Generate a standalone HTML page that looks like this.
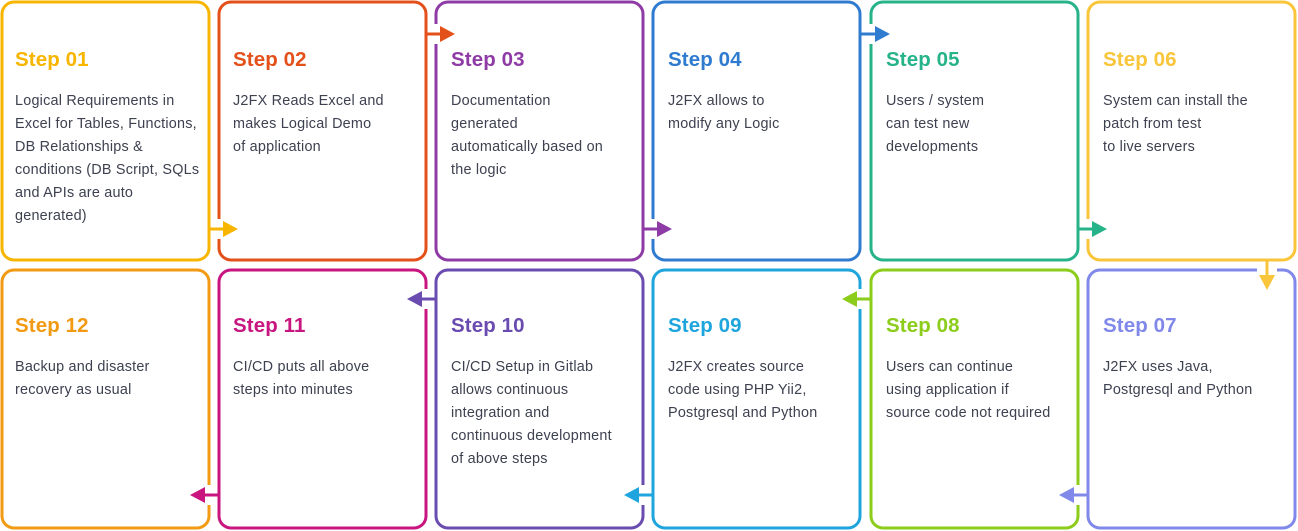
<!DOCTYPE html>
<html><head><meta charset="utf-8"><style>
html,body{margin:0;padding:0;background:#fff;}
svg{display:block;}
.t{font-family:"Liberation Sans",sans-serif;font-weight:bold;font-size:20.5px;letter-spacing:0.1px;}
.b{font-family:"Liberation Sans",sans-serif;font-size:14.4px;fill:#3d4150;letter-spacing:0.22px;}
</style></head><body>
<svg width="1298" height="531" viewBox="0 0 1298 531" xmlns="http://www.w3.org/2000/svg">
<g fill="none" stroke-width="3">
<rect x="2" y="2" width="207" height="258" rx="12" stroke="#f7b500"/>
<rect x="219" y="2" width="207" height="258" rx="12" stroke="#e4501a"/>
<rect x="436" y="2" width="207" height="258" rx="12" stroke="#8e3ba5"/>
<rect x="653" y="2" width="207" height="258" rx="12" stroke="#2f7bd0"/>
<rect x="871" y="2" width="207" height="258" rx="12" stroke="#27b38a"/>
<rect x="1088" y="2" width="207" height="258" rx="12" stroke="#f9c53a"/>
<rect x="2" y="270" width="207" height="258" rx="12" stroke="#f29a13"/>
<rect x="219" y="270" width="207" height="258" rx="12" stroke="#c8157f"/>
<rect x="436" y="270" width="207" height="258" rx="12" stroke="#6a4bb0"/>
<rect x="653" y="270" width="207" height="258" rx="12" stroke="#1fa5dd"/>
<rect x="871" y="270" width="207" height="258" rx="12" stroke="#8ccc1a"/>
<rect x="1088" y="270" width="207" height="258" rx="12" stroke="#8088ea"/>
</g>
<g stroke="#fff" stroke-width="6">
<line x1="219" y1="219" x2="219" y2="239"/>
<line x1="436" y1="24" x2="436" y2="44"/>
<line x1="653" y1="219" x2="653" y2="239"/>
<line x1="871" y1="24" x2="871" y2="44"/>
<line x1="1088" y1="219" x2="1088" y2="239"/>
<line x1="1257" y1="270" x2="1277" y2="270"/>
<line x1="1078" y1="485" x2="1078" y2="505"/>
<line x1="860" y1="289" x2="860" y2="309"/>
<line x1="643" y1="485" x2="643" y2="505"/>
<line x1="426" y1="289" x2="426" y2="309"/>
<line x1="209" y1="485" x2="209" y2="505"/>
</g>
<g stroke-width="3" fill="none">
<path d="M209 229H224" stroke="#f7b500"/>
<path d="M426 34H441" stroke="#e4501a"/>
<path d="M643 229H658" stroke="#8e3ba5"/>
<path d="M860 34H876" stroke="#2f7bd0"/>
<path d="M1078 229H1093" stroke="#27b38a"/>
<path d="M1267 260V276" stroke="#f9c53a"/>
<path d="M1088 495H1073" stroke="#8088ea"/>
<path d="M871 299H856" stroke="#8ccc1a"/>
<path d="M653 495H638" stroke="#1fa5dd"/>
<path d="M436 299H421" stroke="#6a4bb0"/>
<path d="M219 495H204" stroke="#c8157f"/>
</g>
<g>
<polygon points="223,221 238,229 223,237" fill="#f7b500"/>
<polygon points="440,26 455,34 440,42" fill="#e4501a"/>
<polygon points="657,221 672,229 657,237" fill="#8e3ba5"/>
<polygon points="875,26 890,34 875,42" fill="#2f7bd0"/>
<polygon points="1092,221 1107,229 1092,237" fill="#27b38a"/>
<polygon points="1259,275 1275,275 1267,290" fill="#f9c53a"/>
<polygon points="1074,487 1059,495 1074,503" fill="#8088ea"/>
<polygon points="857,291 842,299 857,307" fill="#8ccc1a"/>
<polygon points="639,487 624,495 639,503" fill="#1fa5dd"/>
<polygon points="422,291 407,299 422,307" fill="#6a4bb0"/>
<polygon points="205,487 190,495 205,503" fill="#c8157f"/>
</g>
<g class="t">
<text x="15" y="66" fill="#f7b500">Step 01</text>
<text x="233" y="66" fill="#e4501a">Step 02</text>
<text x="451" y="66" fill="#8e3ba5">Step 03</text>
<text x="668" y="66" fill="#2f7bd0">Step 04</text>
<text x="886" y="66" fill="#27b38a">Step 05</text>
<text x="1103" y="66" fill="#f9c53a">Step 06</text>
<text x="15" y="332" fill="#f29a13">Step 12</text>
<text x="233" y="332" fill="#c8157f">Step 11</text>
<text x="451" y="332" fill="#6a4bb0">Step 10</text>
<text x="668" y="332" fill="#1fa5dd">Step 09</text>
<text x="886" y="332" fill="#8ccc1a">Step 08</text>
<text x="1103" y="332" fill="#8088ea">Step 07</text>
</g>
<g class="b">
<text x="15" y="105">Logical Requirements in<tspan x="15" dy="23">Excel for Tables, Functions,</tspan><tspan x="15" dy="23">DB Relationships &amp;</tspan><tspan x="15" dy="23">conditions (DB Script, SQLs</tspan><tspan x="15" dy="23">and APIs are auto</tspan><tspan x="15" dy="23">generated)</tspan></text>
<text x="233" y="105">J2FX Reads Excel and<tspan x="233" dy="23">makes Logical Demo</tspan><tspan x="233" dy="23">of application</tspan></text>
<text x="451" y="105">Documentation<tspan x="451" dy="23">generated</tspan><tspan x="451" dy="23">automatically based on</tspan><tspan x="451" dy="23">the logic</tspan></text>
<text x="668" y="105">J2FX allows to<tspan x="668" dy="23">modify any Logic</tspan></text>
<text x="886" y="105">Users / system<tspan x="886" dy="23">can test new</tspan><tspan x="886" dy="23">developments</tspan></text>
<text x="1103" y="105">System can install the<tspan x="1103" dy="23">patch from test</tspan><tspan x="1103" dy="23">to live servers</tspan></text>
<text x="15" y="371">Backup and disaster<tspan x="15" dy="23">recovery as usual</tspan></text>
<text x="233" y="371">CI/CD puts all above<tspan x="233" dy="23">steps into minutes</tspan></text>
<text x="451" y="371">CI/CD Setup in Gitlab<tspan x="451" dy="23">allows continuous</tspan><tspan x="451" dy="23">integration and</tspan><tspan x="451" dy="23">continuous development</tspan><tspan x="451" dy="23">of above steps</tspan></text>
<text x="668" y="371">J2FX creates source<tspan x="668" dy="23">code using PHP Yii2,</tspan><tspan x="668" dy="23">Postgresql and Python</tspan></text>
<text x="886" y="371">Users can continue<tspan x="886" dy="23">using application if</tspan><tspan x="886" dy="23">source code not required</tspan></text>
<text x="1103" y="371">J2FX uses Java,<tspan x="1103" dy="23">Postgresql and Python</tspan></text>
</g>
</svg>
</body></html>
